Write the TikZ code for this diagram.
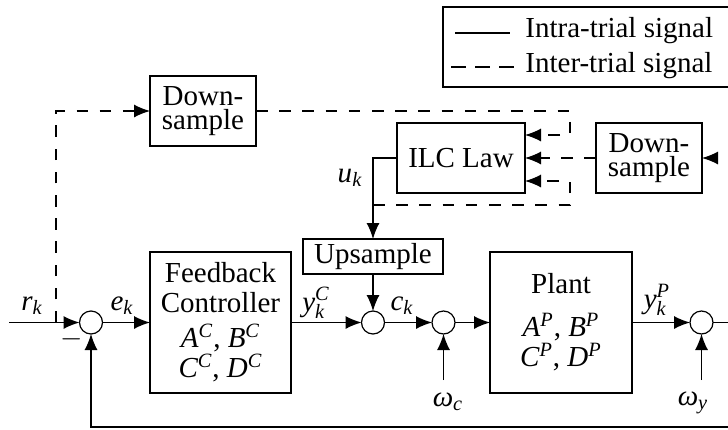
\documentclass[tikz,border=0pt]{standalone}
\usepackage{fontspec}
\setmainfont{Liberation Serif}
\usetikzlibrary{arrows.meta}
\begin{document}
\begin{tikzpicture}[x=0.5pt,y=-0.5pt,
  every node/.style={font=\fontsize{14.5}{15}\selectfont},
  blk/.style={draw, line width=0.6pt, inner sep=0pt, outer sep=0pt, align=center},
  dsblk/.style={blk, minimum width=53pt, minimum height=35pt, font=\fontsize{14.5}{12}\selectfont},
  sumn/.style={draw, circle, minimum size=11.5pt, inner sep=0pt, outer sep=0pt, line width=0.6pt},
  sigline/.style={line width=0.6pt},
  sig/.style={sigline, -{Latex[length=8pt,width=6.5pt]}},
  inter/.style={dash pattern=on 5.8pt off 5.8pt},
  lab/.style={inner sep=0pt}
]
\useasboundingbox (0,0) rectangle (728,429);
\clip (0,0) rectangle (728,429);

% legend
\draw[sigline] (443,7) rectangle (760,87);
\coordinate (l1a) at (455,33); \coordinate (l1b) at (510,33);
\coordinate (l2a) at (451,67); \coordinate (l2b) at (514,67);
\draw[sigline] (l1a) -- (l1b);
\draw[sigline, dash pattern=on 7.5pt off 4.5pt] (l2a) -- (l2b);
\node[lab, anchor=base west] (lt1) at (525,37) {Intra-trial signal};
\node[lab, anchor=base west] (lt2) at (525,72) {Inter-trial signal};

% blocks
\node[dsblk] (ds1) at (203,111) {Down-\\sample};
\node[blk, minimum width=64pt, minimum height=35pt] (ilc) at (461,158) {ILC Law};
\node[dsblk] (ds2) at (649,158) {Down-\\sample};
\node[blk, minimum width=70pt, minimum height=17.5pt] (up) at (373,256.5) {Upsample};
\node[blk, minimum width=70.5pt, minimum height=70.5pt] (fc) at (220.5,322.5)
  {Feedback\\Controller\\[2.5pt]$\mathit{A}^{\mathit{C}}$,\ $\mathit{B}^{\mathit{C}}$\\$\mathit{C}^{\mathit{C}}$,\ $\mathit{D}^{\mathit{C}}$};
\node[blk, minimum width=71pt, minimum height=70.5pt] (pl) at (561,322.5)
  {Plant\\[6.5pt]$\mathit{A}^{\mathit{P}}$,\ $\mathit{B}^{\mathit{P}}$\\$\mathit{C}^{\mathit{P}}$,\ $\mathit{D}^{\mathit{P}}$};

% summing junctions
\node[sumn] (s1) at (91,322.5) {};
\node[sumn] (s2) at (373,322.5) {};
\node[sumn] (s3) at (443.5,322.5) {};
\node[sumn] (s4) at (701.5,322.5) {};

% coordinates
\coordinate (rin) at (9,322.5);
\coordinate (rjoin) at (56,322.5);
\coordinate (uk) at (373,158);
\coordinate (ukb) at (373,205);
\coordinate (yin) at (740,158);
\coordinate (out) at (740,322.5);
\coordinate (wc) at (443.5,380);
\coordinate (wy) at (701.5,380);
\coordinate (fb) at (740,427);

% inter-trial (dashed) signals
\draw[sig, inter] (rjoin) |- (ds1.west);
\draw[sig, inter] (ds1.east) -| (570,135) -- (ilc.east |- 570,135);
\draw[sig, inter] (ukb) -- (570,205) -- (570,181) -- (ilc.east |- 570,181);
\draw[sig, inter] (ds2.west) -- (ilc.east);
\draw[sig, inter] (yin) -- (ds2.east);

% intra-trial signals
\draw[sig] (ilc.west) -- (uk) -- (up.north);
\draw[sig] (rin) -- (s1.west);
\draw[sig] (s1.east) -- (fc.west);
\draw[sig] (fc.east) -- (s2.west);
\draw[sig] (up.south) -- (s2.north);
\draw[sig] (s2.east) -- (s3.west);
\draw[sig] (s3.east) -- (pl.west);
\draw[sig] (pl.east) -- (s4.west);
\draw[sigline] (s4.east) -- (out);
\draw[sig] (wc) -- (s3.south);
\draw[sig] (wy) -- (s4.south);
\draw[sig] (fb) -| (s1.south);

% labels
\node[lab] (lr) at (32,306) {$\mathit{r}_{\mathit{k}}$};
\node[lab] (le) at (122,306) {$\mathit{e}_{\mathit{k}}$};
\node[lab] (lm) at (72,339) {$-$};
\node[lab] (lyc) at (316,303) {$\mathit{y}^{\mathit{C}}_{\mathit{k}}$};
\node[lab] (lc) at (402,306) {$\mathit{c}_{\mathit{k}}$};
\node[lab] (lyp) at (657,300) {$\mathit{y}^{\mathit{P}}_{\mathit{k}}$};
\node[lab] (lwc) at (448,402) {\textit{ω}$_{\mathit{c}}$};
\node[lab] (lwy) at (693,403) {\textit{ω}$_{\mathit{y}}$};
\node[lab] (lu) at (350,178) {$\mathit{u}_{\mathit{k}}$};
\end{tikzpicture}
\end{document}
